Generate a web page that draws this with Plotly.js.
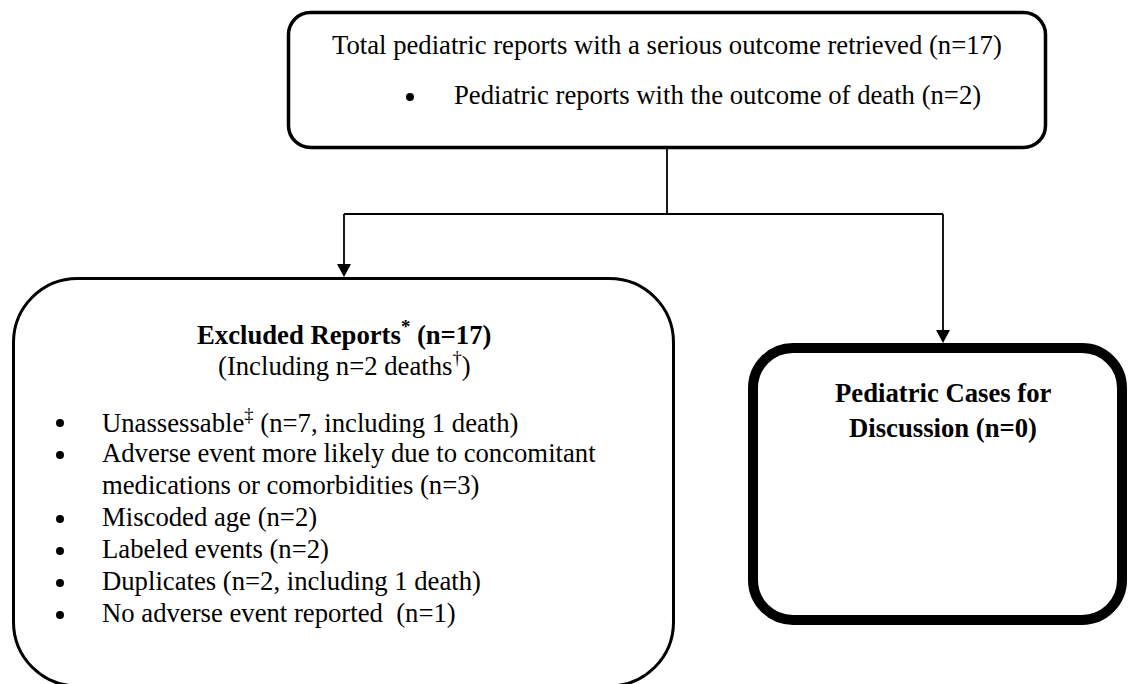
<!DOCTYPE html>
<html><head><meta charset="utf-8">
<script src="https://cdn.plot.ly/plotly-3.0.1.min.js"></script>
<style>html,body{margin:0;padding:0;background:#fff}</style>
</head><body><div id="chart" style="width:1128px;height:684px"></div>
<script>
// ---- data ----
const totalReports = 17;
const totalDeaths = 2;
const excludedTotal = 17;
const excludedDeaths = 2;
const discussionCases = 0;
const reasonLabels = [
  "Unassessable",
  "Adverse event more likely due to concomitant\nmedications or comorbidities",
  "Miscoded age",
  "Labeled events",
  "Duplicates",
  "No adverse event reported\u00a0"
];
const reasonMarks = ["‡", "", "", "", "", ""];
const reasonCounts = [7, 3, 2, 2, 2, 1];
const reasonDeaths = [1, 0, 0, 0, 1, 0];

// ---- style ----
const FONT = "Liberation Serif, Times New Roman, serif";
const FS = 26.7;
const BLACK = "#000";

function rrect(x0, y0, x1, y1, r) {
  const k = 0.5523 * r;
  return `M${x0 + r},${y0} L${x1 - r},${y0} C${x1 - r + k},${y0} ${x1},${y0 + r - k} ${x1},${y0 + r}` +
    ` L${x1},${y1 - r} C${x1},${y1 - r + k} ${x1 - r + k},${y1} ${x1 - r},${y1}` +
    ` L${x0 + r},${y1} C${x0 + r - k},${y1} ${x0},${y1 - r + k} ${x0},${y1 - r}` +
    ` L${x0},${y0 + r} C${x0},${y0 + r - k} ${x0 + r - k},${y0} ${x0 + r},${y0} Z`;
}
function tri(x, yTip) {
  return `M${x - 7},${yTip - 13} L${x + 7},${yTip - 13} L${x},${yTip} Z`;
}

const shapes = [
  {type: "path", path: rrect(288.5, 12.5, 1045.5, 147.5, 22), line: {color: BLACK, width: 3.5}},
  {type: "path", path: rrect(13.5, 278.5, 673.5, 686, 64), line: {color: BLACK, width: 3}},
  {type: "path", path: rrect(753, 348, 1122, 620, 40), line: {color: BLACK, width: 10}},
  {type: "line", x0: 667, y0: 149, x1: 667, y1: 214, line: {color: BLACK, width: 1.8}},
  {type: "line", x0: 344, y0: 214, x1: 943, y1: 214, line: {color: BLACK, width: 1.8}},
  {type: "line", x0: 344, y0: 214, x1: 344, y1: 266, line: {color: BLACK, width: 1.8}},
  {type: "line", x0: 943, y0: 214, x1: 943, y1: 332, line: {color: BLACK, width: 1.8}},
  {type: "path", path: tri(344, 277), fillcolor: BLACK, line: {color: BLACK, width: 0}},
  {type: "path", path: tri(943, 343), fillcolor: BLACK, line: {color: BLACK, width: 0}}
];

function bullet(x, y) {
  shapes.push({type: "circle", x0: x - 4, x1: x + 4, y0: y - 4, y1: y + 4,
    fillcolor: BLACK, line: {color: BLACK, width: 0}});
}

function ann(text, x, y, xanchor, bold, size) {
  return {text: bold ? "<b>" + text + "</b>" : text, x: x, y: y, xref: "x", yref: "y",
    xanchor: xanchor, yanchor: "middle", showarrow: false,
    font: {family: FONT, size: size || FS, color: BLACK}};
}

const annotations = [];
annotations.push(ann(`Total pediatric reports with a serious outcome retrieved (n=${totalReports})`, 667, 45, "center"));
bullet(410, 97);
annotations.push(ann(`Pediatric reports with the outcome of death (n=${totalDeaths})`, 452, 95, "left"));

annotations.push(ann(`Excluded Reports<sup>*</sup> (n=${excludedTotal})`, 344, 333, "center", true));
annotations.push(ann(`(Including n=${excludedDeaths} deaths<sup>†</sup>)`, 344, 364, "center"));

let y = 421;
const step = 32;
reasonLabels.forEach((lab, i) => {
  const lines = lab.split("\n");
  const cnt = reasonDeaths[i] > 0
    ? `(n=${reasonCounts[i]}, including ${reasonDeaths[i]} death${reasonDeaths[i] > 1 ? "s" : ""})`
    : `(n=${reasonCounts[i]})`;
  bullet(60, y + 2);
  lines.forEach((ln, j) => {
    let t = ln;
    if (j === 0 && reasonMarks[i]) t += `<sup>${reasonMarks[i]}</sup>`;
    if (j === lines.length - 1) t += " " + cnt;
    annotations.push(ann(t, 100, y, "left"));
    y += step;
  });
});

annotations.push(ann("Pediatric Cases for", 943, 393, "center", true));
annotations.push(ann(`Discussion (n=${discussionCases})`, 943, 428, "center", true));

const layout = {
  width: 1128, height: 684,
  margin: {l: 0, r: 0, t: 0, b: 0, pad: 0},
  paper_bgcolor: "#fff", plot_bgcolor: "#fff",
  xaxis: {range: [0, 1128], visible: false, fixedrange: true},
  yaxis: {range: [684, 0], visible: false, fixedrange: true},
  showlegend: false,
  shapes: shapes,
  annotations: annotations
};
Plotly.newPlot("chart", [{x: [], y: [], type: "scatter"}], layout, {staticPlot: true, displayModeBar: false});
</script>
</body></html>
